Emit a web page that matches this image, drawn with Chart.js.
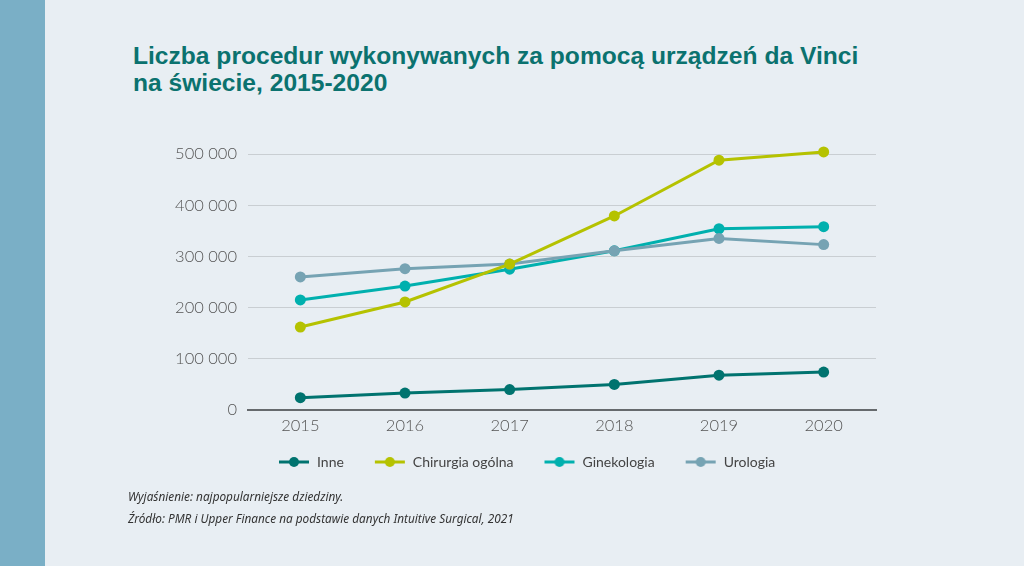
<!DOCTYPE html>
<html lang="pl">
<head>
<meta charset="utf-8">
<script src="https://cdn.jsdelivr.net/npm/chart.js@4.4.0/dist/chart.umd.min.js"></script>
<style>
    html, body { margin: 0; padding: 0; }
    body { width: 1024px; height: 566px; background: #e8eef3; position: relative; overflow: hidden; }
    #side { position: absolute; left: 0; top: 0; width: 45px; height: 566px; background: #7aafc6; }
    #title { position: absolute; left: 133px; top: 42px; margin: 0; color: #0b726f;
        font-family: "Liberation Sans Narrow", "Liberation Sans", sans-serif; font-weight: bold;
        font-size: 24.6px; line-height: 27px; }
    #note { position: absolute; left: 128px; top: 485px; color: #333; font-style: italic;
        font-family: "Noto Sans", sans-serif; font-size: 11.8px; line-height: 22px; }
    #wrap { position: absolute; left: 0; top: 0; width: 1024px; height: 566px; }
</style>
</head>
<body>
<div id="side"></div>
<h1 id="title">Liczba procedur wykonywanych za pomocą urządzeń da Vinci<br>na świecie, 2015-2020</h1>
<div id="wrap"><canvas id="linechart"></canvas></div>
<div id="note">Wyjaśnienie: najpopularniejsze dziedziny.<br>Źródło: PMR i Upper Finance na podstawie danych Intuitive Surgical, 2021</div>
<script>
// data
const years = ['2015', '2016', '2017', '2018', '2019', '2020'];
const seriesNames = ['Inne', 'Chirurgia ogólna', 'Ginekologia', 'Urologia'];
const inne = [24000, 33000, 40000, 50000, 68000, 74000];
const chirurgia = [162000, 211000, 285000, 379000, 488000, 504000];
const ginekologia = [215000, 242000, 275000, 311000, 354000, 358000];
const urologia = [260000, 276000, 285000, 311000, 335000, 323000];
const colors = ['#00736f', '#b5c200', '#00b0ae', '#76a3b3'];
const yTicks = [0, 100000, 200000, 300000, 400000, 500000];

// legend icon: short line with a dot in the middle
function legendIcon(color) {
    var c = document.createElement('canvas');
    c.width = 32;
    c.height = 12;
    var ctx = c.getContext('2d');
    ctx.strokeStyle = color;
    ctx.lineWidth = 3;
    ctx.beginPath();
    ctx.moveTo(1, 6);
    ctx.lineTo(31, 6);
    ctx.stroke();
    ctx.fillStyle = color;
    ctx.beginPath();
    ctx.arc(16, 6, 5, 0, Math.PI * 2);
    ctx.fill();
    return c;
}

// pull the legend a bit closer to the axis
const legendShift = {
    id: 'legendShift',
    afterLayout: function (chart) {
        chart.legend.top -= 19;
        chart.legend.bottom -= 19;
    }
};

const allValues = [inne, chirurgia, ginekologia, urologia];
const datasets = [];
for (let i = 0; i < allValues.length; i++) {
    datasets.push({
        label: seriesNames[i],
        data: allValues[i],
        borderColor: colors[i],
        backgroundColor: colors[i],
        borderWidth: 3,
        pointRadius: 5.5,
        pointHoverRadius: 5.5,
        pointBorderWidth: 0,
        tension: 0,
        clip: false
    });
}
// draw order: Chirurgia on top
datasets[0].order = 4;
datasets[1].order = 1;
datasets[2].order = 3;
datasets[3].order = 2;

const data = {
    labels: years,
    datasets: datasets
};

const config = {
    type: 'line',
    data: data,
    plugins: [legendShift],
    options: {
        responsive: false,
        animation: false,
        layout: {
            padding: { left: 0, right: 148, top: 154, bottom: 14 }
        },
        scales: {
            x: {
                offset: true,
                grid: { display: false, drawTicks: false },
                border: { display: true, color: '#666a6d', width: 2 },
                ticks: {
                    color: '#555',
                    padding: 6,
                    font: { family: 'Lato', size: 16.5, weight: '300' }
                },
                afterFit: function (scale) { scale.height = 34; }
            },
            y: {
                min: 0,
                max: 500000,
                afterBuildTicks: function (scale) {
                    scale.ticks = yTicks.map(v => ({ value: v }));
                },
                grid: {
                    color: '#c9ced2',
                    lineWidth: 1,
                    drawTicks: false
                },
                border: { display: false },
                ticks: {
                    color: '#555',
                    padding: 11,
                    font: { family: 'Lato', size: 16.5, weight: '300' },
                    callback: function (v) {
                        return v.toString().replace(/\B(?=(\d{3})+(?!\d))/g, ' ');
                    }
                },
                afterFit: function (scale) { scale.width = 248; }
            }
        },
        plugins: {
            legend: {
                position: 'bottom',
                align: 'start',
                fullSize: false,
                labels: {
                    usePointStyle: true,
                    pointStyleWidth: 32,
                    padding: 30,
                    color: '#444',
                    font: { family: 'Lato', size: 14 },
                    generateLabels: function (chart) {
                        return seriesNames.map((name, i) => ({
                            text: name,
                            pointStyle: legendIcon(colors[i]),
                            fillStyle: colors[i],
                            strokeStyle: colors[i],
                            lineWidth: 0,
                            fontColor: '#444',
                            datasetIndex: i
                        }));
                    }
                }
            },
            tooltip: { enabled: false }
        }
    }
};

var myChart = new Chart(
    document.getElementById('linechart'),
    config
);
myChart.resize(1024, 566);
</script>
</body>
</html>
